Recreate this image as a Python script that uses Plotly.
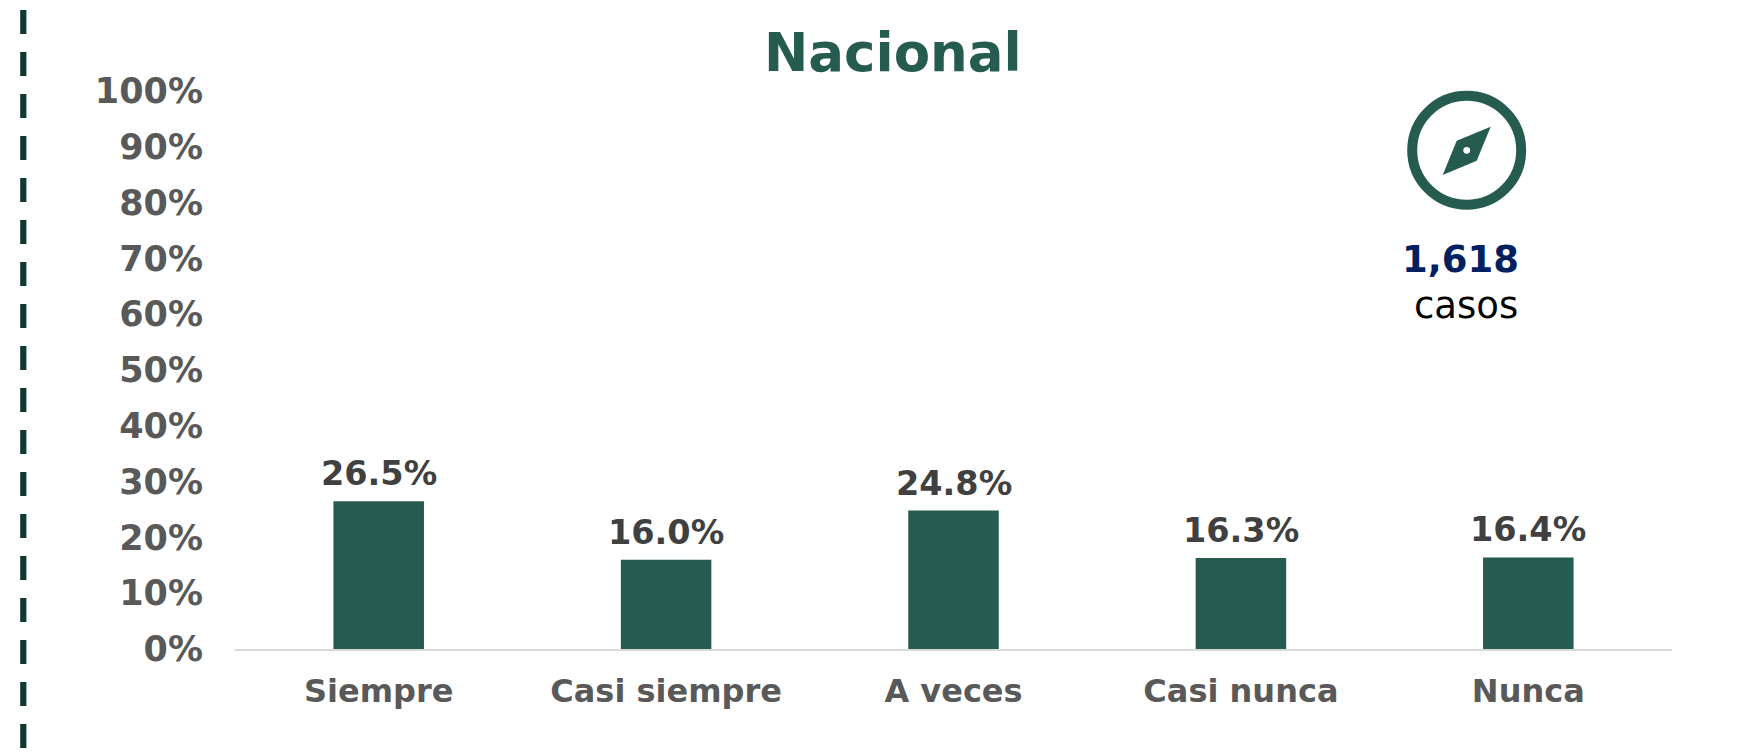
import plotly.graph_objects as go

categories = ["Siempre", "Casi siempre", "A veces", "Casi nunca", "Nunca"]
values = [26.5, 16.0, 24.8, 16.3, 16.4]
y_ticks = list(range(0, 101, 10))
y_tick_labels = [f"{v}%" for v in y_ticks]
title_text = "Nacional"
cases_number = "1,618"
cases_word = "casos"

W, H = 1745, 756
L, R, T, B = 235, 73, 91, 107
GREEN = "#265C4F"
FONT = "DejaVu Sans"


def px(x):
    return (x - L) / (W - L - R)


def py(y):
    return 1 - (y - T) / (H - T - B)


fig = go.Figure(
    go.Bar(
        x=categories,
        y=values,
        width=0.315,
        marker=dict(color=GREEN, line=dict(width=0)),
    )
)

# Compass icon
cx, cy = 1466.7, 150.3
ring_r = 54.5
needle = [(1490.7, 126.7), (1456.7, 140.7), (1442.7, 175), (1476.7, 160.7)]
needle_path = "M " + " L ".join(f"{px(x)} {py(y)}" for x, y in needle) + " Z"
dot_r = 3.4

shapes = [
    dict(type="line", xref="paper", yref="paper", layer="above",
         x0=px(23.3), x1=px(23.3), y0=py(10), y1=py(756),
         line=dict(color="#0F3A33", width=6.2, dash="24px,18px")),
    dict(type="circle", xref="paper", yref="paper",
         x0=px(cx - ring_r), x1=px(cx + ring_r), y0=py(cy - ring_r), y1=py(cy + ring_r),
         line=dict(color=GREEN, width=10), fillcolor="rgba(0,0,0,0)"),
    dict(type="path", xref="paper", yref="paper", path=needle_path,
         fillcolor=GREEN, line=dict(width=0)),
    dict(type="circle", xref="paper", yref="paper",
         x0=px(cx - dot_r), x1=px(cx + dot_r), y0=py(cy - dot_r), y1=py(cy + dot_r),
         fillcolor="white", line=dict(width=0)),
]

annotations = [
    dict(text=f"<b>{title_text}</b>", xref="paper", yref="paper", x=px(892.6), y=py(52),
         showarrow=False, xanchor="center", yanchor="middle",
         font=dict(family=FONT, size=53, color=GREEN)),
    dict(text=f"<b>{cases_number}</b>", xref="paper", yref="paper", x=px(1460), y=py(259),
         showarrow=False, xanchor="center", yanchor="middle",
         font=dict(family=FONT, size=37, color="#002060")),
    dict(text=cases_word, xref="paper", yref="paper", x=px(1466), y=py(305),
         showarrow=False, xanchor="center", yanchor="middle",
         font=dict(family=FONT, size=37, color="#000000")),
]

# Value labels sit a fixed distance above each bar
for cat, val in zip(categories, values):
    annotations.append(
        dict(text=f"<b>{val:.1f}%</b>", x=cat, y=val, xref="x", yref="y",
             showarrow=False, xanchor="center", yanchor="bottom", yshift=6,
             font=dict(family=FONT, size=33.5, color="#404040"))
    )

fig.update_layout(
    width=W,
    height=H,
    margin=dict(l=L, r=R, t=T, b=B, autoexpand=False),
    paper_bgcolor="white",
    plot_bgcolor="white",
    showlegend=False,
    shapes=shapes,
    annotations=annotations,
    xaxis=dict(
        showline=True, linecolor="#D9D9D9", linewidth=2, ticks="",
        showgrid=False, zeroline=False, ticklabelstandoff=13,
        tickfont=dict(family=FONT, size=32, color="#595959", weight="bold"),
    ),
    yaxis=dict(
        range=[0, 100], tickvals=y_ticks, ticktext=y_tick_labels,
        showline=False, showgrid=False, zeroline=False, ticks="",
        ticklabelstandoff=31,
        tickfont=dict(family=FONT, size=35, color="#595959", weight="bold"),
    ),
)

fig.write_html(
    "out.html",
    config=dict(displayModeBar=False),
    post_script="document.body.style.margin='0';document.body.style.overflow='hidden';",
)
